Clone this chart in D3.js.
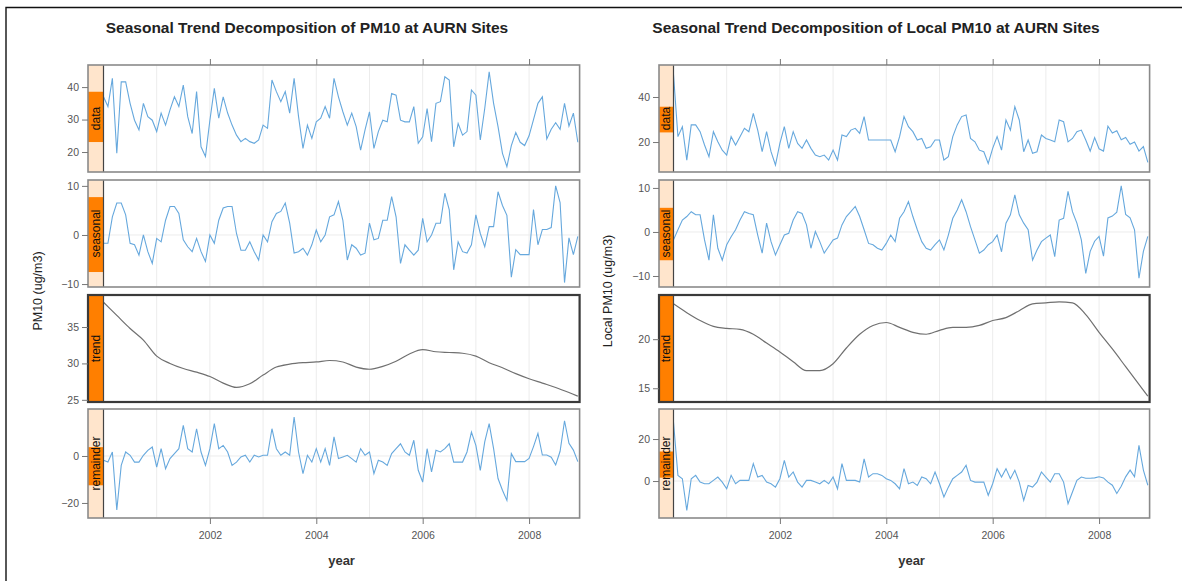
<!DOCTYPE html>
<html><head><meta charset="utf-8">
<script src="https://cdn.jsdelivr.net/npm/d3@7"></script>
<style>body{margin:0;background:#fff} svg{display:block;font-family:"Liberation Sans",Arial,Helvetica,sans-serif}</style>
</head><body>
<svg id="c" width="1182" height="581"></svg>
<script>
// ---------------- DATA ----------------
const startYear = 2000;            // monthly series, Jan 2000 .. Dec 2008
const nMonths = 108;
const yearTicks = [2002, 2004, 2006, 2008];
const yearGrid = [2001, 2002, 2003, 2004, 2005, 2006, 2007, 2008];
const componentNames = ["data", "seasonal", "trend", "remainder"];

const pmData = [37,34,42.7,19.6,41.6,41.6,35,29.8,26.8,35,
30.9,29.8,26.3,32,28.3,33,37,34,40.6,30.9,
25.7,38.6,21.6,18.6,29.8,39.6,30.4,37,32,28.3,
25.2,23.2,24.2,23.2,22.7,23.7,28.3,27.3,42.2,38.6,
35.5,38.6,32,42.7,30.9,21.1,28.3,24.2,29.3,30.4,
34,30.4,42.7,37,32.4,28.3,32,27.8,20.6,26.8,
32.4,21.1,26.3,29.8,29.3,38,37.5,29.8,29.3,29.3,
34,22.7,24.7,33.4,23.2,35,35.5,43.2,42.2,21.6,
28.8,25.2,26.3,39.1,37.5,23.7,33.4,44.7,35,27.8,
19.6,15.5,22,26,23,22,25,30,35,37,
24,27,29,27,35,28,32,23];
const pmSeasonal = [-1.7,-1.7,3.7,6.5,6.5,4.1,-1.7,-2,-4.1,0,
-3.4,-5.8,-0.7,-1.4,3,5.8,5.8,4.4,-1,-2.4,
-3.4,-0.7,-3.4,-5.4,0,-1.7,3,5.5,5.8,5.8,
0.3,-3.1,-3.1,-1.4,-3.4,-5.1,0,-1.4,2.7,4.4,
4.8,6.5,2.4,-3.7,-3.4,-2.7,-4.1,-2,1,-1.4,
0,3.7,4.1,6.8,3,-5.1,-2,-2.7,-4.1,-3.7,
2.4,-1,-0.7,3,3,7.8,3.7,-5.8,-2,-3.1,
-4.1,-3.1,3.4,-1.4,0,2.4,2.4,8.5,5.1,-7.1,
-1.4,-3.4,-3.7,-2,4.1,0.3,-2.4,1.7,1.7,8.8,
6,4,-8.6,-3,-4,-4,-4,5.2,-2,1.1,
1.1,1.5,10,6.6,-9.7,-0.6,-4,-0.3];
const pmTrendMonths = [0,3,6,9,12,15,18,21,24,27,30,33,36,39,42,45,48,51,54,57,60,63,66,69,72,75,78,81,84,87,90,93,96,99,102,105,107];
const pmTrend = [38.4,36.6,34.8,33.2,31.0,30.0,29.3,28.8,28.2,27.3,26.7,27.2,28.4,29.5,29.9,30.1,30.2,30.4,30.2,29.5,
29.2,29.6,30.3,31.3,31.9,31.6,31.5,31.4,31.0,30.1,29.4,28.6,27.9,27.3,26.7,26.0,25.5];
const pmRemainder = [-1.8,-2.6,1.7,-23,-4,1.7,0.3,-2.6,-2.6,0.3,
2.4,3.8,-4.7,3.1,-5.4,-1.1,1,3.1,13,3.1,
1.7,11.6,1.7,-4,3.1,13.8,3.1,4.5,1.7,-4,
-2.6,-0.4,0.3,-2.6,0.3,-0.4,0.3,0.3,11.6,3.1,
0.3,1.7,0.3,16.6,1.7,-7.5,0.3,-2.6,3.1,-2.6,
3.1,-4,8.1,-1.1,-0.4,0.3,-1.1,-2.6,3.1,0.3,
1.7,-7.5,-1.8,-2.6,-4,1,3.1,5.2,1.7,0.3,
6.7,-6.1,-11.1,3.1,-6.8,2.4,1.7,3.1,5.2,-2.6,
-2.6,-2.6,1.7,10.2,4.5,-6.1,6,13.8,3.1,-9.6,
-14.6,-18.9,1,-2.4,-2.4,-2.4,-1,4,9.6,0.4,
0.4,-0.5,-3.8,2,15,5.4,2.5,-2.4];

const localData = [50,22.4,26.8,12,27.6,27.6,24.6,18.7,13.5,24.6,
20.1,16.4,14.2,22.4,18.7,22.4,26.1,24.6,32.7,25.3,
15.7,24.6,15.7,9.8,19.4,26.8,17.2,24.6,19.4,17.2,
20.9,17.2,14.2,13.5,14.2,12,16.4,12,23.1,22.4,
25.3,26.1,23.9,31.3,20.9,20.9,20.9,20.9,20.9,20.9,
15.7,22.4,31.3,26.8,24.6,20.9,21.6,17.2,17.9,20.9,
20.9,12,13.5,22.4,27.6,31.3,32,21.6,20.1,16.4,
15.7,10.5,17.2,22.4,16.4,29.8,25.3,35.7,29.8,15.7,
20.9,15,15.7,23.1,21.6,20.9,20.1,29.8,29,20.1,
21.6,24.6,25.3,20.9,16,22,17,16,27,24,
25,21,22,19,20,16,18,11];
const localSeasonal = [-1.8,0.5,2.7,3.5,4.6,3.9,3.9,-1.8,-6.4,3.9,
-3.7,-6.4,-2.9,-1.1,0.5,2.7,4.6,4.2,3.9,-0.7,
-4.8,2,-2.2,-5.2,-2.9,-0.7,-0.3,2.7,4.6,4.2,
1.6,-3.7,0.1,-2.2,-4.8,-3.3,-1.8,-1.4,1.6,3.5,
4.6,5.8,3.5,0.5,-2.6,-2.9,-3.7,-4.1,-2.6,-0.7,
-2.2,3.1,4.6,6.9,3.5,0.5,-2.2,-3.7,-4.1,-2.9,
-1.8,-4.1,-0.7,3.1,5,7.3,4.6,1.2,-1.8,-4.8,
-4.1,-2.9,-2.2,-0.7,-4.5,2,3.9,8.4,3.9,2,
0.5,-6.4,-4.1,-2.2,-1.4,-0.7,-5.6,2.7,3.1,9.2,
4.6,2,-1.8,-9.4,-4.4,-2.1,-1,-5.5,3.2,3.6,
4.5,10.5,4,3.2,0.5,-10.5,-4.4,-1];
const localTrendMonths = pmTrendMonths;
const localTrend = [23.6,22.7,21.9,21.3,21.1,21.0,20.5,19.6,18.7,17.7,16.8,16.8,17.5,19.1,20.5,21.4,21.7,21.2,20.7,20.5,
20.9,21.2,21.2,21.4,21.9,22.2,22.9,23.6,23.7,23.8,23.7,22.5,20.7,19.0,17.2,15.4,14.2];
const localRemainder = [28,2.7,1.1,-14,1.1,2.7,-0.5,-1.3,-1.3,0.3,
1.9,-0.5,-3.7,2.7,-1.3,0.3,0.3,0.3,8.3,1.9,
2.7,-0.5,-1.3,-2.9,1.1,9.8,1.9,4.3,-0.5,-2.9,
0.3,0.3,-0.5,-1.3,0.3,-1.3,1.9,-3.7,8.3,0.3,
0.3,0.3,-0.5,10.6,1.9,3.5,3.5,2.7,1.1,0.3,
-1.3,-3.7,5.9,-1.3,-0.5,-2.1,1.9,1.1,-1.3,4.3,
-1.3,-7.6,-2.9,1.1,2.7,4.3,7.5,0.3,-0.5,-0.5,
-0.5,-6.8,-1.3,5.9,1.9,5.9,1.1,5.1,-0.5,-9.2,
-2.1,-2.9,-0.5,4.3,1.9,-0.5,3.5,3.5,-0.5,-10.8,
-5.2,0.3,1.9,1.3,1.3,1.5,2,1.5,-0.5,-2,
-5.9,-2.5,2,5.2,2,17,5.2,-2];

const pmTicks = [[20,30,40],[-10,0,10],[25,30,35],[-20,0]];
const localTicks = [[20,40],[-10,0,10],[15,20],[0,20]];

// ---------------- LAYOUT ----------------
const svg = d3.select('#c');
svg.append('rect').attr('width',1182).attr('height',581).attr('fill','#fff');
svg.append('path').attr('d','M6,581V7.5H1182').attr('fill','none').attr('stroke','#111').attr('stroke-width',1.4);

const rows = [[65,172],[180,287],[295,402],[409,518]];
const monthX = i => startYear + i/12;

const charts = [
  {title:"Seasonal Trend Decomposition of PM10 at AURN Sites", ylab:"PM10 (ug/m3)",
   boxX0:88, plotX0:103.5, plotX1:579.6, titleX:307, ylabX:42,
   series:[pmData,pmSeasonal,null,pmRemainder], trend:[pmTrendMonths,pmTrend], ticks:pmTicks,
   domains:[[13.85,46.8],[-10.6,11.2],[24.7,39.4],[-26.4,20.0]],
   shingle:[[0.25,0.72],[0.16,0.86],[0,1],[0.35,0.70]]},
  {title:"Seasonal Trend Decomposition of Local PM10 at AURN Sites", ylab:"Local PM10 (ug/m3)",
   boxX0:659, plotX0:673.5, plotX1:1149.6, titleX:876, ylabX:612,
   series:[localData,localSeasonal,null,localRemainder], trend:[localTrendMonths,localTrend], ticks:localTicks,
   domains:[[6.7,54.2],[-12.5,11.8],[13.6,24.5],[-17.6,34.3]],
   shingle:[[0.39,0.63],[0.26,0.75],[0,1],[0.39,0.63]]}
];

charts.forEach((c, ci) => {
  const x = d3.scaleLinear().domain([startYear, startYear + 8.95]).range([c.plotX0, c.plotX1]);
  svg.append('text').attr('x', c.titleX).attr('y', 33).attr('text-anchor','middle')
    .attr('font-size', 15.5).attr('font-weight','bold').attr('fill','#222').text(c.title);
  svg.append('text').attr('transform', `translate(${c.ylabX},291) rotate(-90)`).attr('text-anchor','middle')
    .attr('font-size', 12.5).attr('fill','#222').text(c.ylab);
  svg.append('text').attr('x', (c.plotX0 + c.plotX1)/2).attr('y', 565).attr('text-anchor','middle')
    .attr('font-size', 13).attr('font-weight','bold').attr('fill','#333').text('year');

  rows.forEach((r, k) => {
    const [y0, y1] = r;
    const y = d3.scaleLinear().domain(c.domains[k]).range([y1, y0]);
    const g = svg.append('g');
    const clipId = `clip${ci}_${k}`;
    g.append('clipPath').attr('id', clipId).append('rect')
      .attr('x', c.plotX0).attr('y', y0).attr('width', c.plotX1 - c.plotX0).attr('height', y1 - y0);
    // grid
    g.selectAll('.vg').data(yearGrid).join('line')
      .attr('x1', d => x(d)).attr('x2', d => x(d)).attr('y1', y0).attr('y2', y1)
      .attr('stroke', '#ececec').attr('stroke-width', 1);
    if (k === 1 || k === 3) {
      g.append('line').attr('x1', c.plotX0).attr('x2', c.plotX1).attr('y1', y(0)).attr('y2', y(0))
        .attr('stroke', '#ececec').attr('stroke-width', 1);
    }
    // series
    const lg = g.append('g').attr('clip-path', `url(#${clipId})`);
    if (k === 2) {
      const [tm, tv] = c.trend;
      const line = d3.line().x((d, i) => x(monthX(tm[i]))).y(d => y(d)).curve(d3.curveMonotoneX);
      lg.append('path').attr('d', line(tv)).attr('fill','none').attr('stroke','#707070').attr('stroke-width',1.2);
    } else {
      const vals = c.series[k];
      const line = d3.line().x((d, i) => x(monthX(i))).y(d => y(d));
      lg.append('path').attr('d', line(vals)).attr('fill','none').attr('stroke','#66a8dd').attr('stroke-width',1.1);
    }
    // strip
    const sh = c.shingle[k];
    g.append('rect').attr('x', c.boxX0).attr('y', y0).attr('width', c.plotX0 - c.boxX0).attr('height', y1 - y0).attr('fill', '#ffe5cc');
    g.append('rect').attr('x', c.boxX0).attr('y', y0 + sh[0]*(y1 - y0)).attr('width', c.plotX0 - c.boxX0)
      .attr('height', (sh[1]-sh[0])*(y1 - y0)).attr('fill', '#ff7f00');
    g.append('text').attr('transform', `translate(${(c.boxX0 + c.plotX0)/2 + 4},${(y0+y1)/2}) rotate(-90)`)
      .attr('text-anchor','middle').attr('font-size', 12).attr('fill','#111').text(componentNames[k]);
    g.append('line').attr('x1', c.plotX0).attr('x2', c.plotX0).attr('y1', y0).attr('y2', y1)
      .attr('stroke', '#444').attr('stroke-width', 1.2);
    // border
    g.append('rect').attr('x', c.boxX0).attr('y', y0).attr('width', c.plotX1 - c.boxX0).attr('height', y1 - y0)
      .attr('fill','none').attr('stroke', k === 2 ? '#3a3a3a' : '#8a8a8a').attr('stroke-width', k === 2 ? 2.2 : 1.6);
    // y axis
    const ya = g.append('g').attr('transform', `translate(${c.boxX0},0)`)
      .call(d3.axisLeft(y).tickValues(c.ticks[k]).tickSize(6).tickPadding(3).tickFormat(d3.format('d')));
    ya.select('.domain').remove();
    ya.selectAll('line').attr('stroke','#777');
    ya.selectAll('text').attr('fill','#555').attr('font-size', 10.5).attr('font-family','Liberation Sans, Arial, sans-serif');
    // x axes
    if (k === 0) {
      const xa = g.append('g').attr('transform', `translate(0,${y0})`)
        .call(d3.axisTop(x).tickValues(yearTicks).tickSize(6).tickFormat(''));
      xa.select('.domain').remove();
      xa.selectAll('line').attr('stroke','#777');
    }
    if (k === 3) {
      const xa = g.append('g').attr('transform', `translate(0,${y1})`)
        .call(d3.axisBottom(x).tickValues(yearTicks).tickSize(6).tickPadding(8).tickFormat(d3.format('d')));
      xa.select('.domain').remove();
      xa.selectAll('line').attr('stroke','#777');
      xa.selectAll('text').attr('fill','#555').attr('font-size', 10.5).attr('font-family','Liberation Sans, Arial, sans-serif');
    }
  });
});
</script></body></html>
